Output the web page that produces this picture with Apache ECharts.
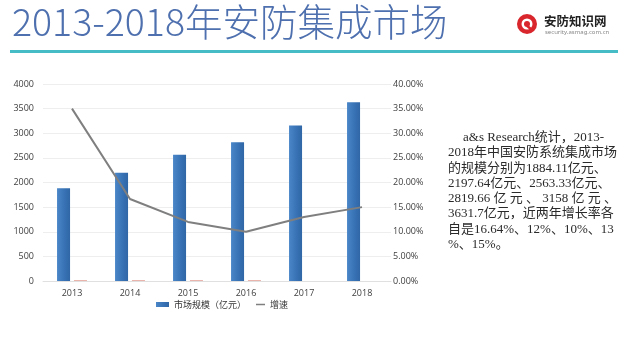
<!DOCTYPE html>
<html>
<head>
<meta charset="utf-8">
<script src="https://cdn.jsdelivr.net/npm/echarts@6/dist/echarts.min.js"></script>
<style>html,body{margin:0;padding:0;background:#fff;}#c{width:628px;height:349px;}</style>
</head>
<body>
<div id="c"></div>
<script>
const categories = ['2013','2014','2015','2016','2017','2018'];
const marketSize = [1884.11, 2197.64, 2563.33, 2819.66, 3158, 3631.7];
const growthRate = [0.35, 0.1664, 0.12, 0.10, 0.13, 0.15];
const growthBars = [0.35, 0.1664, 0.12, 0.10, null, null];
const leftTicks = {min: 0, max: 4000, interval: 500};
const rightTicks = {min: 0, max: 0.4, interval: 0.05};
const paragraph = [
  'a&s Research统计，2013-',
  '2018年中国安防系统集成市场',
  '的规模分别为1884.11亿元、',
  '2197.64亿元、2563.33亿元、',
  '2819.66 亿 元 、 3158 亿 元 、',
  '3631.7亿元，近两年增长率各',
  '自是16.64%、12%、10%、13',
  '%、15%。'
];

const chart = echarts.init(document.getElementById('c'), null, {renderer: 'canvas'});
const axisFont = {fontSize: 9, color: '#404040', fontFamily: 'Open Sans, Noto Sans, sans-serif'};
const paraFont = '"Liberation Serif", "Noto Sans CJK SC", serif';
const legendText = {fontSize: 9, color: '#333', fontFamily: '"Noto Sans CJK SC", sans-serif'};

const graphics = [
  {type: 'text', left: 12, top: 3, style: {text: '2013-2018年安防集成市场', fontSize: 37.5, fill: '#4e70ae', fontFamily: '"Noto Sans CJK SC", sans-serif', fontWeight: 300}},
  {type: 'rect', shape: {x: 10, y: 50, width: 608, height: 3}, style: {fill: '#45bcc6'}},
  {type: 'circle', shape: {cx: 527, cy: 24, r: 10}, style: {fill: '#d9262c'}},
  {type: 'circle', shape: {cx: 527, cy: 24, r: 5.5}, style: {fill: '#fff'}},
  {type: 'circle', shape: {cx: 527, cy: 24, r: 3}, style: {fill: '#d9262c'}},
  {type: 'rect', shape: {x: 528, y: 25, width: 6, height: 2.5}, rotation: -0.7, originX: 528, originY: 25, style: {fill: '#d9262c'}},
  {type: 'text', left: 544, top: 15, style: {text: '安防知识网', fontSize: 12.5, fontWeight: 'bold', fill: '#222', fontFamily: '"Noto Sans CJK SC", sans-serif'}},
  {type: 'text', left: 545, top: 29, style: {text: 'security.asmag.com.cn', fontSize: 6, fill: '#888', fontFamily: 'Noto Sans, sans-serif'}}
];
paragraph.forEach((line, i) => {
  graphics.push({type: 'text', left: i === 0 ? 463 : 448, top: 131 + i * 15.3,
    style: {text: line, fontSize: 13, fill: '#2a2a2a', fontFamily: paraFont}});
});

chart.setOption({
  animation: false,
  backgroundColor: '#fff',
  grid: {left: 43, right: 237, top: 84, bottom: 68},
  legend: [
    {data: [{name: '市场规模（亿元）', icon: 'rect'}],
      left: 156, top: 300, itemWidth: 13, itemHeight: 5, textStyle: legendText, padding: 0},
    {data: [{name: '增速', icon: 'rect'}],
      left: 256, top: 300, itemWidth: 9, itemHeight: 1.5, textStyle: legendText, padding: 0,
      itemStyle: {color: '#7f7f7f'}}
  ],
  xAxis: {
    type: 'category', data: categories,
    axisTick: {show: false},
    axisLine: {lineStyle: {color: '#e0e0e0'}},
    axisLabel: Object.assign({margin: 8}, axisFont)
  },
  yAxis: [
    Object.assign({type: 'value', splitLine: {lineStyle: {color: '#eeeeee'}},
      axisLine: {show: false}, axisTick: {show: false},
      axisLabel: Object.assign({margin: 9, formatter: v => String(v)}, axisFont)}, leftTicks),
    Object.assign({type: 'value', splitLine: {show: false},
      axisLine: {show: false}, axisTick: {show: false},
      axisLabel: Object.assign({margin: 2, formatter: v => (v * 100).toFixed(2) + '%'}, axisFont)}, rightTicks)
  ],
  series: [
    {name: '市场规模（亿元）', type: 'bar', data: marketSize, barWidth: 13, barGap: '30%',
      itemStyle: {color: new echarts.graphic.LinearGradient(0, 0, 1, 0, [
        {offset: 0, color: '#4a86c8'}, {offset: 0.5, color: '#3a75b8'}, {offset: 1, color: '#2f66a6'}])}},
    {name: 'growthBar', type: 'bar', data: growthBars, barWidth: 13, barMinHeight: 1,
      itemStyle: {color: '#e8b4ac'}},
    {name: '增速', type: 'line', yAxisIndex: 1, data: growthRate, symbol: 'none',
      lineStyle: {color: '#7f7f7f', width: 2}, itemStyle: {color: '#7f7f7f'}}
  ],
  graphic: graphics
});
</script>
</body>
</html>
